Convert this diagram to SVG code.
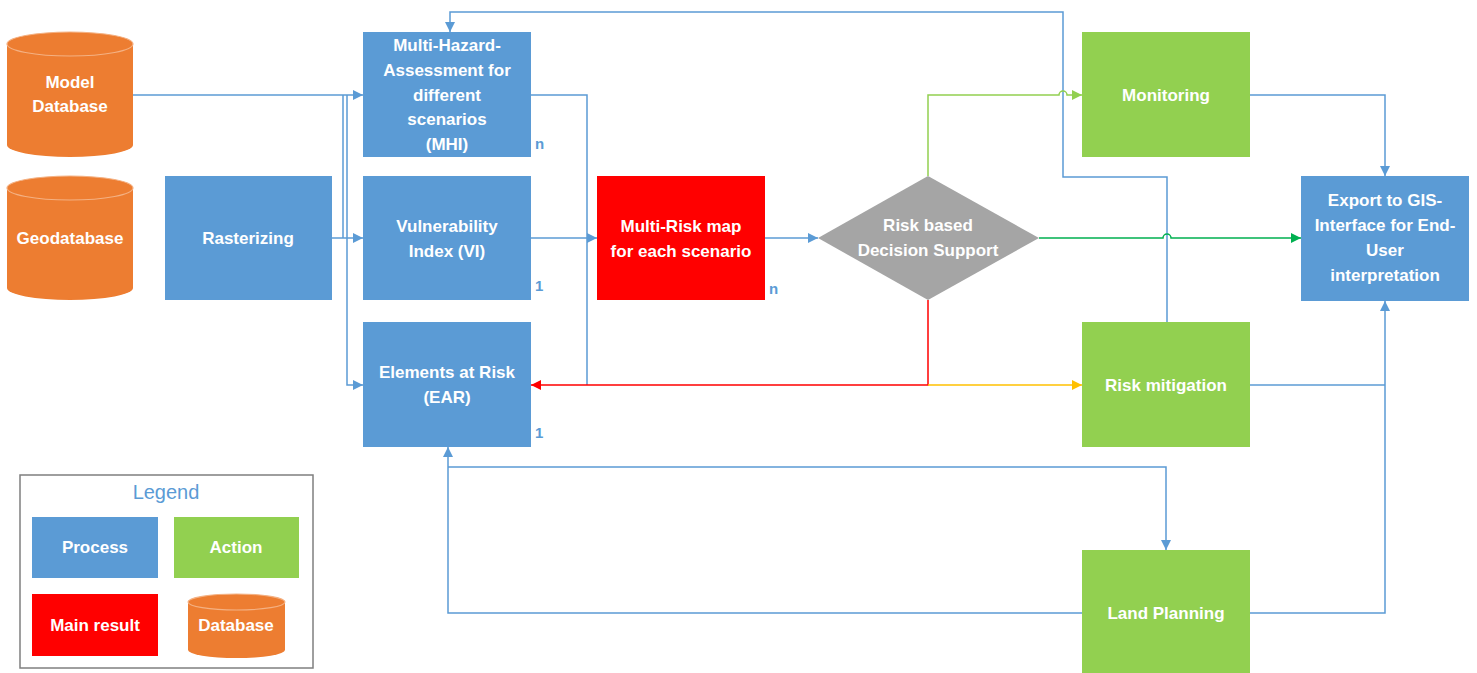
<svg xmlns="http://www.w3.org/2000/svg" width="1477" height="673" viewBox="0 0 1477 673">
<style>
.proc{fill:#5b9bd5}
.act{fill:#92d050}
.res{fill:#ff0000}
.db{fill:#ed7d31}
.dbtop{fill:#ed7d31;stroke:#f4b183;stroke-width:1.2}
.t{font-family:"Liberation Sans",Arial,sans-serif;font-weight:bold;font-size:17px;fill:#ffffff;text-anchor:middle}
.lbl{font-family:"Liberation Sans",Arial,sans-serif;font-weight:bold;font-size:15px;fill:#5b9bd5}
.c{fill:none;stroke:#5b9bd5;stroke-width:1.5}
.cg{fill:none;stroke:#92d050;stroke-width:1.5}
.cdg{fill:none;stroke:#00b050;stroke-width:1.5}
.cr{fill:none;stroke:#ff0000;stroke-width:1.5}
.co{fill:none;stroke:#ffc000;stroke-width:1.5}
</style>
<defs>
<marker id="ab" viewBox="0 0 10 10" refX="10" refY="5" markerWidth="10" markerHeight="10" markerUnits="userSpaceOnUse" orient="auto"><path d="M0,0 L10,5 L0,10 z" fill="#5b9bd5"/></marker>
<marker id="ag" viewBox="0 0 10 10" refX="10" refY="5" markerWidth="10" markerHeight="10" markerUnits="userSpaceOnUse" orient="auto"><path d="M0,0 L10,5 L0,10 z" fill="#92d050"/></marker>
<marker id="adg" viewBox="0 0 10 10" refX="10" refY="5" markerWidth="10" markerHeight="10" markerUnits="userSpaceOnUse" orient="auto"><path d="M0,0 L10,5 L0,10 z" fill="#00b050"/></marker>
<marker id="ar" viewBox="0 0 10 10" refX="10" refY="5" markerWidth="10" markerHeight="10" markerUnits="userSpaceOnUse" orient="auto"><path d="M0,0 L10,5 L0,10 z" fill="#ff0000"/></marker>
<marker id="ao" viewBox="0 0 10 10" refX="10" refY="5" markerWidth="10" markerHeight="10" markerUnits="userSpaceOnUse" orient="auto"><path d="M0,0 L10,5 L0,10 z" fill="#ffc000"/></marker>
</defs>
<rect width="1477" height="673" fill="#ffffff"/>

<g id="connectors">
<path class="c" d="M1167,322 V177 H1063 V12 H450 V32" marker-end="url(#ab)"/>
<path class="c" d="M133,95 H363" marker-end="url(#ab)"/>
<path class="c" d="M343,95 V238"/>
<path class="c" d="M332,238 H363" marker-end="url(#ab)"/>
<path class="c" d="M347,95 V385 H363" marker-end="url(#ab)"/>
<path class="c" d="M531,95 H587 V385"/>
<path class="c" d="M531,238 H597" marker-end="url(#ab)"/>
<path class="c" d="M765,238 H818" marker-end="url(#ab)"/>
<path class="cg" d="M928,176 V95 H1059 a4,4 0 0 1 8,0 H1082" marker-end="url(#ag)"/>
<path class="cdg" d="M1039,238 H1163 a4,4 0 0 1 8,0 H1301" marker-end="url(#adg)"/>
<path class="cr" d="M928,300 V385 H531" marker-end="url(#ar)"/>
<path class="co" d="M928,385 H1082" marker-end="url(#ao)"/>
<path class="c" d="M1249,95 H1385 V176" marker-end="url(#ab)"/>
<path class="c" d="M1249,385 H1385"/>
<path class="c" d="M1249,613 H1385 V301" marker-end="url(#ab)"/>
<path class="c" d="M1082,613 H448 V447" marker-end="url(#ab)"/>
<path class="c" d="M448,467 H1166 V550" marker-end="url(#ab)"/>
</g>

<g id="model-db">
<path class="db" d="M7,44 V145 A63,12 0 0 0 133,145 V44 Z"/>
<ellipse class="dbtop" cx="70" cy="44" rx="63" ry="12"/>
<text class="t" x="70" y="88">Model</text>
<text class="t" x="70" y="112">Database</text>
</g>

<g id="geodatabase">
<path class="db" d="M7,188 V288 A63,12 0 0 0 133,288 V188 Z"/>
<ellipse class="dbtop" cx="70" cy="188" rx="63" ry="12"/>
<text class="t" x="70" y="244">Geodatabase</text>
</g>

<g id="rasterizing">
<rect class="proc" x="165" y="176" width="167" height="124"/>
<text class="t" x="248" y="244">Rasterizing</text>
</g>

<g id="mhi">
<rect class="proc" x="363" y="32" width="168" height="125"/>
<text class="t" x="447" y="51">Multi-Hazard-</text>
<text class="t" x="447" y="76">Assessment for</text>
<text class="t" x="447" y="101">different</text>
<text class="t" x="447" y="125">scenarios</text>
<text class="t" x="447" y="150">(MHI)</text>
<text class="lbl" x="535" y="149">n</text>
</g>

<g id="vi">
<rect class="proc" x="363" y="176" width="168" height="124"/>
<text class="t" x="447" y="232">Vulnerability</text>
<text class="t" x="447" y="257">Index (VI)</text>
<text class="lbl" x="535" y="291">1</text>
</g>

<g id="ear">
<rect class="proc" x="363" y="322" width="168" height="125"/>
<text class="t" x="447" y="378">Elements at Risk</text>
<text class="t" x="447" y="403">(EAR)</text>
<text class="lbl" x="535" y="438">1</text>
</g>

<g id="multi-risk">
<rect class="res" x="597" y="176" width="168" height="124"/>
<text class="t" x="681" y="232">Multi-Risk map</text>
<text class="t" x="681" y="257">for each scenario</text>
<text class="lbl" x="769" y="294">n</text>
</g>

<g id="decision">
<polygon points="928,176 1039,238 928,300 818,238" fill="#a5a5a5"/>
<text class="t" x="928" y="231">Risk based</text>
<text class="t" x="928" y="256">Decision Support</text>
</g>

<g id="monitoring">
<rect class="act" x="1082" y="32" width="168" height="125"/>
<text class="t" x="1166" y="101">Monitoring</text>
</g>

<g id="risk-mitigation">
<rect class="act" x="1082" y="322" width="168" height="125"/>
<text class="t" x="1166" y="391">Risk mitigation</text>
</g>

<g id="land-planning">
<rect class="act" x="1082" y="550" width="168" height="123"/>
<text class="t" x="1166" y="619">Land Planning</text>
</g>

<g id="export">
<rect class="proc" x="1301" y="176" width="168" height="125"/>
<text class="t" x="1385" y="206">Export to GIS-</text>
<text class="t" x="1385" y="231">Interface for End-</text>
<text class="t" x="1385" y="256">User</text>
<text class="t" x="1385" y="281">interpretation</text>
</g>

<g id="legend">
<rect x="20" y="475" width="293" height="193" fill="#ffffff" stroke="#7f7f7f" stroke-width="1.5"/>
<text x="166" y="499" font-family="'Liberation Sans',Arial,sans-serif" font-size="20" fill="#5b9bd5" text-anchor="middle">Legend</text>
<rect class="proc" x="32" y="517" width="126" height="61"/>
<text class="t" x="95" y="553">Process</text>
<rect class="act" x="174" y="517" width="125" height="61"/>
<text class="t" x="236" y="553">Action</text>
<rect class="res" x="32" y="594" width="126" height="62"/>
<text class="t" x="95" y="631">Main result</text>
<path class="db" d="M188,602 V650 A48.5,8 0 0 0 285,650 V602 Z"/>
<ellipse class="dbtop" cx="236.5" cy="602" rx="48.5" ry="8"/>
<text class="t" x="236" y="631">Database</text>
</g>
</svg>
